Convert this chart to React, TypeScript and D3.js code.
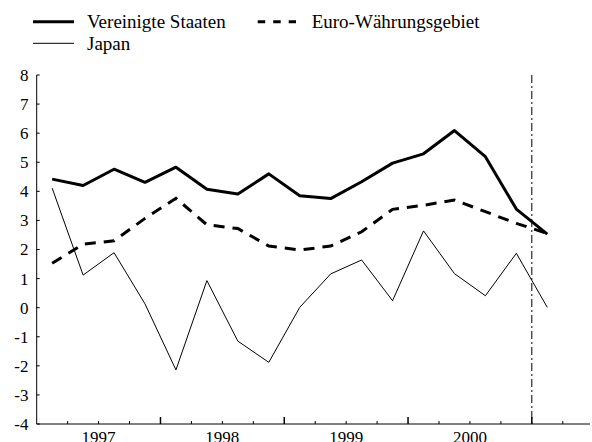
import React from 'react';
import * as d3 from 'd3';

// quarterly values, 1997Q1 .. 2001Q1
const usa = [4.42, 4.2, 4.76, 4.31, 4.83, 4.07, 3.91, 4.6, 3.85, 3.75, 4.33, 4.97, 5.29, 6.09, 5.19, 3.39, 2.53];
const euro = [1.53, 2.18, 2.3, 3.07, 3.76, 2.85, 2.72, 2.12, 1.98, 2.12, 2.61, 3.38, 3.52, 3.7, 3.3, 2.9, 2.55];
const japan = [4.11, 1.12, 1.89, 0.13, -2.14, 0.93, -1.15, -1.88, 0.01, 1.16, 1.64, 0.24, 2.64, 1.17, 0.41, 1.87, 0.01];

const years = [1997, 1998, 1999, 2000];
const yTicks = [8, 7, 6, 5, 4, 3, 2, 1, 0, -1, -2, -3, -4];
const forecastStart = 2001;

const W = 592;
const H = 442;
const font = 'Liberation Serif, Times New Roman, DejaVu Serif, serif';

const App: React.FC = () => {
  const x = d3.scaleLinear().domain([1997, 2001.47]).range([36.7, 590]);
  const y = d3.scaleLinear().domain([-4, 8]).range([424, 75]);

  const qx = (i: number) => x(1997 + (i + 0.5) / 4);
  const line = d3.line<number>()
    .x((_, i) => qx(i))
    .y(d => y(d));

  const quarterTicks = d3.range(1, 18).map(k => 1997 + k * 0.25).filter(t => t < 2001.4);

  return (
    <svg width={W} height={H}
      style={{ position: 'absolute', left: 0, top: 0, background: '#fff', fontFamily: font }}>
      {/* legend */}
      <g>
        <line x1={33} x2={74} y1={21.7} y2={21.7} stroke="#000" strokeWidth={3} />
        <text x={87} y={21.7} dy="0.35em" fontSize={19}>Vereinigte Staaten</text>
        <line x1={257.7} x2={296} y1={21.7} y2={21.7} stroke="#000" strokeWidth={3} strokeDasharray="7.5,8" />
        <text x={311.7} y={21.7} dy="0.35em" fontSize={19}>Euro-Währungsgebiet</text>
        <line x1={33} x2={74} y1={43.3} y2={43.3} stroke="#000" strokeWidth={1} />
        <text x={87} y={43.3} dy="0.35em" fontSize={19}>Japan</text>
      </g>

      {/* axes */}
      <line x1={x(1997)} x2={x(1997)} y1={y(8)} y2={y(-4)} stroke="#000" strokeWidth={1} />
      <line x1={x(1997)} x2={x.range()[1]} y1={y(-4)} y2={y(-4)} stroke="#000" strokeWidth={1} />
      {yTicks.map(t => (
        <g key={t}>
          <line x1={x(1997)} x2={x(1997) + 3} y1={y(t)} y2={y(t)} stroke="#000" />
          <text x={28.5} y={y(t)} dy="0.35em" textAnchor="end" fontSize={17}>{t}</text>
        </g>
      ))}
      {quarterTicks.map(t => {
        const major = Math.abs(t - Math.round(t)) < 1e-6;
        return (
          <line key={t} x1={x(t)} x2={x(t)} y1={y(-4)} y2={y(-4) - (major ? 7 : 3)}
            stroke="#000" strokeWidth={major ? 1.5 : 1} />
        );
      })}
      {years.map(yr => (
        <text key={yr} x={x(yr + 0.5)} y={443} textAnchor="middle" fontSize={17}>{yr}</text>
      ))}

      {/* forecast marker */}
      <line x1={x(forecastStart)} x2={x(forecastStart)} y1={y(8)} y2={y(-4)}
        stroke="#000" strokeWidth={1} strokeDasharray="8,3,2,3" />

      {/* series */}
      <path d={line(japan) ?? ''} fill="none" stroke="#000" strokeWidth={1} />
      <path d={line(euro) ?? ''} fill="none" stroke="#000" strokeWidth={3} strokeDasharray="11,8" />
      <path d={line(usa) ?? ''} fill="none" stroke="#000" strokeWidth={3} strokeLinejoin="round" />
    </svg>
  );
};

export default App;
